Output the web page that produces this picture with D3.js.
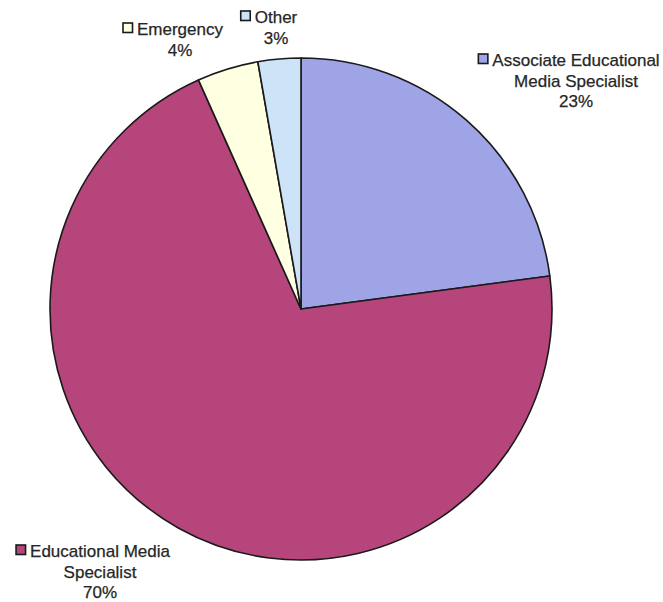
<!DOCTYPE html>
<html>
<head>
<meta charset="utf-8">
<script src="https://cdn.jsdelivr.net/npm/d3@7"></script>
<style>
  html, body { margin: 0; padding: 0; background: #fff; }
  svg text { font-family: "Liberation Sans", Arial, sans-serif; font-size: 17px; fill: #262626; stroke: #262626; stroke-width: 0.25px; }
</style>
</head>
<body>
<svg id="chart" width="663" height="602"></svg>
<script>
// Data
const categories = ["Associate Educational Media Specialist", "Educational Media Specialist", "Emergency", "Other"];
const labelLines = [["Associate Educational", "Media Specialist"], ["Educational Media", "Specialist"], ["Emergency"], ["Other"]];
const values = [22.9, 70.4, 3.95, 2.75];
const colors = ["#9fa4e6", "#b6457c", "#ffffe2", "#cde3f8"];

// Layout
const cx = 301, cy = 309, radius = 251;
const labelPos = [
  { x: 576, y: 66 },   // Associate
  { x: 100, y: 557 },  // Educational Media Specialist
  { x: 180, y: 35 },   // Emergency
  { x: 276, y: 23 }    // Other
];
const lineH = 20.5;

const svg = d3.select("#chart");
const total = d3.sum(values);
const pie = d3.pie().sort(null).value(d => d)(values);
const arc = d3.arc().innerRadius(0).outerRadius(radius);

const g = svg.append("g").attr("transform", `translate(${cx},${cy})`);
g.selectAll("path").data(pie).join("path")
  .attr("d", arc)
  .attr("fill", (d, i) => colors[i])
  .attr("stroke", "#1a1a1a")
  .attr("stroke-width", 1.6)
  .attr("stroke-linejoin", "round");

// Labels
categories.forEach((c, i) => {
  const lines = labelLines[i].concat([Math.round(values[i] / total * 100) + "%"]);
  const lg = svg.append("g");
  lines.forEach((t, j) => {
    const y = labelPos[i].y + j * lineH;
    const txt = lg.append("text").attr("x", labelPos[i].x).attr("y", y)
      .attr("text-anchor", "middle").text(t);
    if (j === 0) {
      const w = txt.node().getComputedTextLength();
      const sq = 9.5, gap = 4.5;
      const xr = labelPos[i].x - w / 2 - gap;
      lg.append("rect")
        .attr("x", xr - sq).attr("y", y - 12)
        .attr("width", sq).attr("height", sq)
        .attr("fill", colors[i]).attr("stroke", "#1a1a1a").attr("stroke-width", 1.6);
    }
  });
});
</script>
</body>
</html>
